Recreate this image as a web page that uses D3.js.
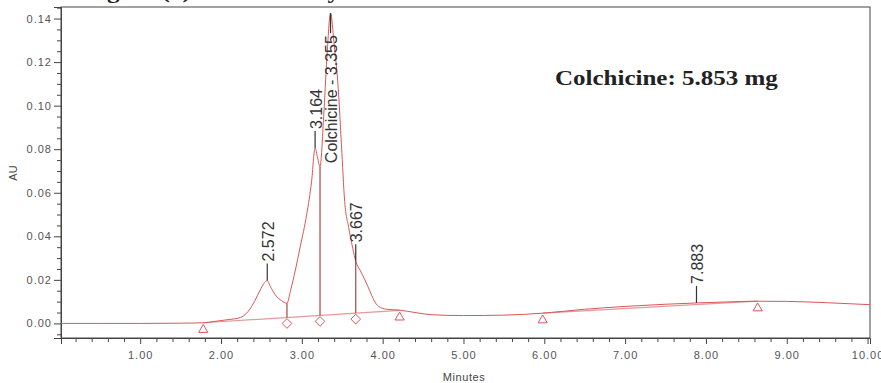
<!DOCTYPE html>
<html>
<head>
<meta charset="utf-8">
<script src="https://cdn.jsdelivr.net/npm/d3@7"></script>
<style>
  body { margin: 0; background: #fff; }
  svg { display: block; }
</style>
</head>
<body>
<div class="chromatogram"></div>
<script>
// retention time (min) and detector response (AU)
const rtMin = [0.02, 0.5, 1.0, 1.5, 1.78, 1.9, 2.0, 2.1, 2.2, 2.28, 2.35, 2.42, 2.48, 2.53, 2.572,
	2.61, 2.67, 2.75, 2.816, 2.86, 2.92, 2.98, 3.06, 3.12, 3.164, 3.195, 3.225, 3.27, 3.31, 3.355,
	3.40, 3.45, 3.49, 3.53, 3.58, 3.63, 3.667, 3.72, 3.78, 3.84, 3.89, 3.95, 4.05, 4.21, 4.4, 4.6,
	5.0, 5.5, 5.98, 6.5, 7.0, 7.5, 7.883, 8.3, 8.64, 9.0, 9.5, 10.03];
const au = [0.0000, 0.0000, 0.0000, 0.0001, 0.0003, 0.0008, 0.0013, 0.0018, 0.0023, 0.0035, 0.0062,
	0.0105, 0.0150, 0.0183, 0.0197, 0.0170, 0.0132, 0.0104, 0.0093, 0.0150, 0.0245, 0.0352, 0.0500,
	0.0650, 0.0805, 0.0760, 0.0720, 0.0950, 0.1220, 0.1425, 0.1280, 0.1080, 0.0820, 0.0560, 0.0440,
	0.0345, 0.0285, 0.0245, 0.0200, 0.0150, 0.0108, 0.0078, 0.0065, 0.0061, 0.0050, 0.0040, 0.0036,
	0.0038, 0.0047, 0.0065, 0.0078, 0.0088, 0.0094, 0.0099, 0.0102, 0.0101, 0.0095, 0.0086];

// peak labels
const peakRt = [2.572, 3.164, 3.355, 3.667, 7.883];
const peakAu = [0.0197, 0.0805, 0.1425, 0.0285, 0.0094];
const peakNames = ["2.572", "3.164", "Colchicine - 3.355", "3.667", "7.883"];

// integration baselines (start / end)
const baseStartRt = [1.78, 5.98];
const baseStartAu = [0.0003, 0.0047];
const baseEndRt = [4.21, 8.64];
const baseEndAu = [0.0060, 0.0102];

// drop lines between peaks
const dropRt = [2.816, 3.225, 3.667];
const dropTopAu = [0.0093, 0.0720, 0.0285];

const xTicks = [1, 2, 3, 4, 5, 6, 7, 8, 9, 10];
const yTicks = [0, 0.02, 0.04, 0.06, 0.08, 0.10, 0.12, 0.14];

const width = 881;
const height = 383;
const plotLeft = 61, plotRight = 870, plotTop = 7, plotBottom = 338;
const traceColor = "#d9575a";
const axisColor = "#444";

const svg = d3.select('.chromatogram')
	.append('svg')
	.attr('width', width)
	.attr('height', height);

const x = d3.scaleLinear().domain([0.02, 10.03]).range([plotLeft, plotRight]);
const y = d3.scaleLinear().domain([-0.0067, 0.1453]).range([plotBottom, plotTop]);

// caption of the figure, mostly cut off by the top edge
svg.append("text")
	.attr("transform", "translate(84.7,-2) scale(1.255,1)")
	.attr("font-family", "'Liberation Serif', 'Times New Roman', serif")
	.attr("font-weight", "bold")
	.attr("font-size", "20px")
	.attr("fill", "#222")
	.text("Figure (8): HPLC analysis of colchicine in the methanolic extract");

// frame
svg.append("rect")
	.attr("x", plotLeft)
	.attr("y", plotTop)
	.attr("width", plotRight - plotLeft)
	.attr("height", plotBottom - plotTop)
	.attr("fill", "none")
	.attr("stroke", axisColor)
	.attr("stroke-width", 1);

// x axis, minor ticks first
const xMinor = d3.range(1, 51).map(d => d * 0.2).filter(d => Math.abs(d - Math.round(d)) > 0.01);
svg.append("g")
	.attr("transform", `translate(0,${plotBottom})`)
	.call(d3.axisBottom(x).tickValues(xMinor).tickSize(4).tickFormat(""))
	.call(g => g.select(".domain").remove())
	.selectAll("line").attr("stroke", axisColor);

const xAxis = svg.append("g")
	.attr("transform", `translate(0,${plotBottom})`)
	.call(d3.axisBottom(x).tickValues(xTicks).tickSize(6).tickPadding(7).tickFormat(d3.format(".2f")));
xAxis.select(".domain").attr("stroke", axisColor);
xAxis.selectAll("line").attr("stroke", axisColor);
xAxis.selectAll("text")
	.attr("fill", "#555")
	.attr("font-family", "'Liberation Sans', Arial, sans-serif")
	.attr("font-size", "11px")
	.attr("letter-spacing", "1px");

// y axis
const yMinor = d3.range(-1, 30).map(d => d * 0.005).filter(d => Math.abs(d / 0.02 - Math.round(d / 0.02)) > 0.01);
svg.append("g")
	.attr("transform", `translate(${plotLeft},0)`)
	.call(d3.axisLeft(y).tickValues(yMinor).tickSize(4).tickFormat(""))
	.call(g => g.select(".domain").remove())
	.selectAll("line").attr("stroke", axisColor);

const yAxis = svg.append("g")
	.attr("transform", `translate(${plotLeft},0)`)
	.call(d3.axisLeft(y).tickValues(yTicks).tickSize(7).tickPadding(2).tickFormat(d3.format(".2f")));
yAxis.select(".domain").attr("stroke", axisColor);
yAxis.selectAll("line").attr("stroke", axisColor);
yAxis.selectAll("text")
	.attr("fill", "#555")
	.attr("font-family", "'Liberation Sans', Arial, sans-serif")
	.attr("font-size", "11px")
	.attr("letter-spacing", "1px");

// axis titles
svg.append("text")
	.attr("x", 464)
	.attr("y", 381)
	.attr("text-anchor", "middle")
	.attr("fill", "#444")
	.attr("font-family", "'Liberation Sans', Arial, sans-serif")
	.attr("font-size", "11px")
	.attr("letter-spacing", "0.6px")
	.text("Minutes");

svg.append("text")
	.attr("transform", "translate(17,173) rotate(-90)")
	.attr("text-anchor", "middle")
	.attr("fill", "#444")
	.attr("font-family", "'Liberation Sans', Arial, sans-serif")
	.attr("font-size", "11px")
	.text("AU");

// baselines
const baseIdx = d3.range(baseStartRt.length);
svg.selectAll(".baseline")
	.data(baseIdx)
	.enter()
	.append("line")
	.attr("class", "baseline")
	.attr("x1", i => x(baseStartRt[i]))
	.attr("y1", i => y(baseStartAu[i]))
	.attr("x2", i => x(baseEndRt[i]))
	.attr("y2", i => y(baseEndAu[i]))
	.attr("stroke", "#e39a9a")
	.attr("stroke-width", 1.2);

// trace
const trace = rtMin.map((t, i) => [t, au[i]]);
const line = d3.line()
	.x(d => x(d[0]))
	.y(d => y(d[1]))
	.curve(d3.curveMonotoneX);

svg.append("path")
	.datum(trace)
	.attr("d", line)
	.attr("fill", "none")
	.attr("stroke", traceColor)
	.attr("stroke-width", 1);

// baseline value under a drop line
function baseAt(t) {
	const i = baseStartRt.findIndex((s, k) => t >= s && t <= baseEndRt[k]);
	const f = (t - baseStartRt[i]) / (baseEndRt[i] - baseStartRt[i]);
	return baseStartAu[i] + f * (baseEndAu[i] - baseStartAu[i]);
}

// drop lines
svg.selectAll(".drop")
	.data(dropRt)
	.enter()
	.append("line")
	.attr("class", "drop")
	.attr("x1", d => x(d))
	.attr("x2", d => x(d))
	.attr("y1", d => y(baseAt(d)))
	.attr("y2", (d, i) => y(dropTopAu[i]))
	.attr("stroke", "#a84545")
	.attr("stroke-width", 1.2);

// diamond markers under drop lines
svg.selectAll(".diamond")
	.data(dropRt)
	.enter()
	.append("path")
	.attr("class", "diamond")
	.attr("d", d3.symbol().type(d3.symbolDiamond2).size(60))
	.attr("transform", d => `translate(${x(d)},${y(baseAt(d)) + 6})`)
	.attr("fill", "#fff")
	.attr("stroke", traceColor)
	.attr("stroke-width", 1);

// triangle markers at baseline ends
const triRt = baseStartRt.concat(baseEndRt);
const triAu = baseStartAu.concat(baseEndAu);
svg.selectAll(".tri")
	.data(triRt)
	.enter()
	.append("path")
	.attr("class", "tri")
	.attr("d", d3.symbol().type(d3.symbolTriangle2).size(60))
	.attr("transform", (d, i) => `translate(${x(d)},${y(triAu[i]) + 7})`)
	.attr("fill", "#fff")
	.attr("stroke", traceColor)
	.attr("stroke-width", 1);

// peak labels: a short tick then the rotated retention time
const peaks = svg.selectAll(".peak")
	.data(peakRt)
	.enter()
	.append("g")
	.attr("class", "peak");

peaks.append("line")
	.attr("x1", d => x(d))
	.attr("x2", d => x(d))
	.attr("y1", (d, i) => y(peakAu[i]))
	.attr("y2", (d, i) => peakAu[i] > 0.13 ? y(peakAu[i]) + 20 : y(peakAu[i]) - 17)
	.attr("stroke", "#333")
	.attr("stroke-width", 1.2);

peaks.append("text")
	.attr("transform", (d, i) => {
		const yy = peakAu[i] > 0.13 ? y(peakAu[i]) + 22 : y(peakAu[i]) - 19;
		return `translate(${x(d) + 1},${yy}) rotate(-90)`;
	})
	.attr("text-anchor", (d, i) => peakAu[i] > 0.13 ? "end" : "start")
	.attr("dy", "0.35em")
	.attr("fill", "#333")
	.attr("font-family", "'Liberation Sans', Arial, sans-serif")
	.attr("font-size", "16px")
	.text((d, i) => peakNames[i]);

// amount annotation
svg.append("text")
	.attr("transform", "translate(555,85) scale(1.25,1)")
	.attr("font-family", "'Liberation Serif', 'Times New Roman', serif")
	.attr("font-weight", "bold")
	.attr("font-size", "20px")
	.attr("fill", "#222")
	.text("Colchicine: 5.853 mg");
</script>
</body>
</html>
